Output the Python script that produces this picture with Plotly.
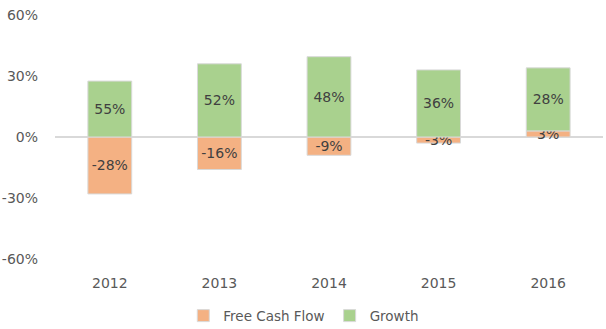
import plotly.graph_objects as go

years = ["2012", "2013", "2014", "2015", "2016"]
fcf = [-28, -16, -9, -3, 3]
growth_label = [55, 52, 48, 36, 28]
growth_bar = [27.5, 36, 39.5, 33, 31]
tick_vals = [-60, -30, 0, 30, 60]
tick_text = ["-60%", "-30%", "0%", "30%", "60%"]

FONT = "DejaVu Sans"
fig = go.Figure()
fig.add_trace(go.Bar(
    x=years, y=fcf, name="Free Cash Flow",
    marker=dict(color="#F4B183", line=dict(color="#D9D9D9", width=1)),
    text=[f"{v}%" for v in fcf], textposition="inside", insidetextanchor="middle",
    textfont=dict(color="#404040", size=14, family=FONT), cliponaxis=False,
))
fig.add_trace(go.Bar(
    x=years, y=growth_bar, name="Growth",
    marker=dict(color="#A9D18E", line=dict(color="#D9D9D9", width=1)),
    text=[f"{v}%" for v in growth_label], textposition="inside", insidetextanchor="middle",
    textfont=dict(color="#404040", size=14, family=FONT), cliponaxis=False,
))
fig.update_layout(
    barmode="relative", bargap=0.6,
    width=606, height=329, margin=dict(l=55, r=3, t=15, b=70, autoexpand=False),
    paper_bgcolor="white", plot_bgcolor="white",
    font=dict(family=FONT, color="#595959", size=14),
    uniformtext=dict(minsize=14, mode="show"),
    xaxis=dict(showgrid=False, showline=False, ticks="", tickfont=dict(size=14),
               ticklabelstandoff=14, automargin=False),
    yaxis=dict(range=[-60, 60], tickvals=tick_vals, ticktext=tick_text, showgrid=False,
               zeroline=True, zerolinecolor="#D9D9D9", zerolinewidth=2,
               showline=False, ticks="", tickfont=dict(size=14),
               ticklabelstandoff=16, automargin=False),
    legend=dict(orientation="h", x=0.454, xanchor="center", yref="container", y=0.04,
                yanchor="middle", font=dict(size=13.5), itemwidth=30, tracegroupgap=0),
)
fig.write_html("out.html")
